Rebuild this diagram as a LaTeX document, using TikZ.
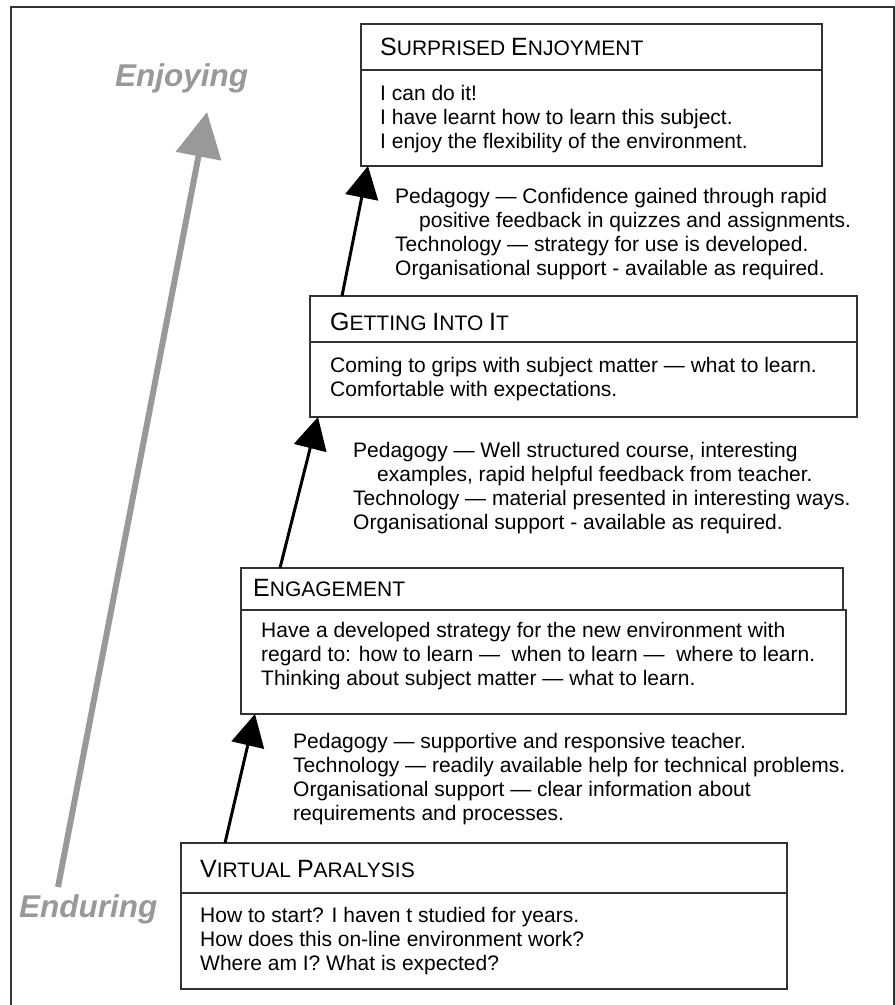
\documentclass[tikz,border=0pt]{standalone}
\usepackage{fontspec}
\setmainfont{Liberation Sans}
\usetikzlibrary{arrows.meta,calc}
\newcommand\bodyfont{\fontsize{21}{24}\selectfont}
\newcommand\BigC[1]{{\fontsize{25}{25}\selectfont #1}}
\definecolor{framec}{gray}{0.2}
\definecolor{arrgray}{gray}{0.6}
\begin{document}
\begin{tikzpicture}[x=1pt,y=-1pt,
  boxr/.style={draw=framec, line width=1.2pt, inner sep=0pt, outer sep=0pt, anchor=north west},
  txt/.style={anchor=north west, inner sep=0pt, align=left, font=\bodyfont},
  ttl/.style={anchor=base west, inner sep=0pt, font=\bodyfont},
  upar/.style={line width=3pt, -{Triangle[length=32pt,width=33pt]}},
  moodlbl/.style={font=\fontsize{31.5}{32}\selectfont\bfseries\itshape, text=arrgray, inner sep=0pt, anchor=base west}]
\useasboundingbox (0,0) rectangle (895,1005);
% frame
\draw[framec, line width=1.5pt] (11,1010) -- (11,7) -- (894,7) -- (894,1010);

% boxes
\node[boxr, minimum width=461pt, minimum height=46pt] (s1t) at (361,24) {};
\node[boxr, minimum width=461pt, minimum height=96pt] (s1b) at (361,70) {};
\node[boxr, minimum width=547pt, minimum height=46pt] (s2t) at (310,296) {};
\node[boxr, minimum width=547pt, minimum height=75pt] (s2b) at (310,342) {};
\node[boxr, minimum width=602pt, minimum height=42pt] (s3t) at (241,568) {};
\node[boxr, minimum width=605pt, minimum height=104pt] (s3b) at (241,610) {};
\node[boxr, minimum width=606pt, minimum height=50pt] (s4t) at (181,843) {};
\node[boxr, minimum width=606pt, minimum height=96pt] (s4b) at (181,893) {};

% titles
\node[ttl] (t1) at (380,55) {\BigC{S}URPRISED \BigC{E}NJOYMENT};
\node[ttl] (t2) at (330,330) {\BigC{G}ETTING \BigC{I}NTO \BigC{I}T};
\node[ttl] (t3) at (253,596) {\BigC{E}NGAGEMENT};
\node[ttl] (t4) at (200,877) {\BigC{V}IRTUAL \BigC{P}ARALYSIS};

% body texts
\node[txt] (b1) at (380,83.2) {\strut I can do it!\\I have learnt how to learn this subject.\\I enjoy the flexibility of the environment.};
\node[txt] (b2) at (330,355.2) {\strut Coming to grips with subject matter --- what to learn.\\Comfortable with expectations.};
\node[txt] (b3) at (261,620.2) {\strut Have a developed strategy for the new environment with\\regard to: how to learn ---\ \ when to learn ---\ \ where to learn.\\Thinking about subject matter --- what to learn.};
\node[txt] (b4) at (200,905.2) {\strut How to start? I haven t studied for years.\\How does this on-line environment work?\\Where am I? What is expected?};

% transition texts
\node[txt] (p1) at (395,186.2) {\strut Pedagogy --- Confidence gained through rapid\\\hspace*{24pt}positive feedback in quizzes and assignments.\\Technology --- strategy for use is developed.\\Organisational support - available as required.};
\node[txt] (p2) at (353,440.2) {\strut Pedagogy --- Well structured course, interesting\\\hspace*{24pt}examples, rapid helpful feedback from teacher.\\Technology --- material presented in interesting ways.\\Organisational support - available as required.};
\node[txt] (p3) at (293,731.2) {\strut Pedagogy --- supportive and responsive teacher.\\Technology --- readily available help for technical problems.\\Organisational support --- clear information about\\requirements and processes.};

% black arrows
\draw[upar] ([xshift=32pt]s2t.north west) -- ([xshift=7pt]s1b.south west);
\draw[upar] ([xshift=39pt]s3t.north west) -- ([xshift=8pt]s2b.south west);
\draw[upar] ([xshift=44pt]s4t.north west) -- ([xshift=14pt]s3b.south west);

% gray scale arrow
\node[moodlbl] (enj) at (115,86) {Enjoying};
\node[moodlbl] (end) at (19,917) {Enduring};
\coordinate (g0) at (58,887);
\coordinate (g1) at (207,112);
\draw[arrgray, line width=6pt, -{Triangle[length=45pt,width=45pt]}] (g0) -- (g1);
\end{tikzpicture}
\end{document}
